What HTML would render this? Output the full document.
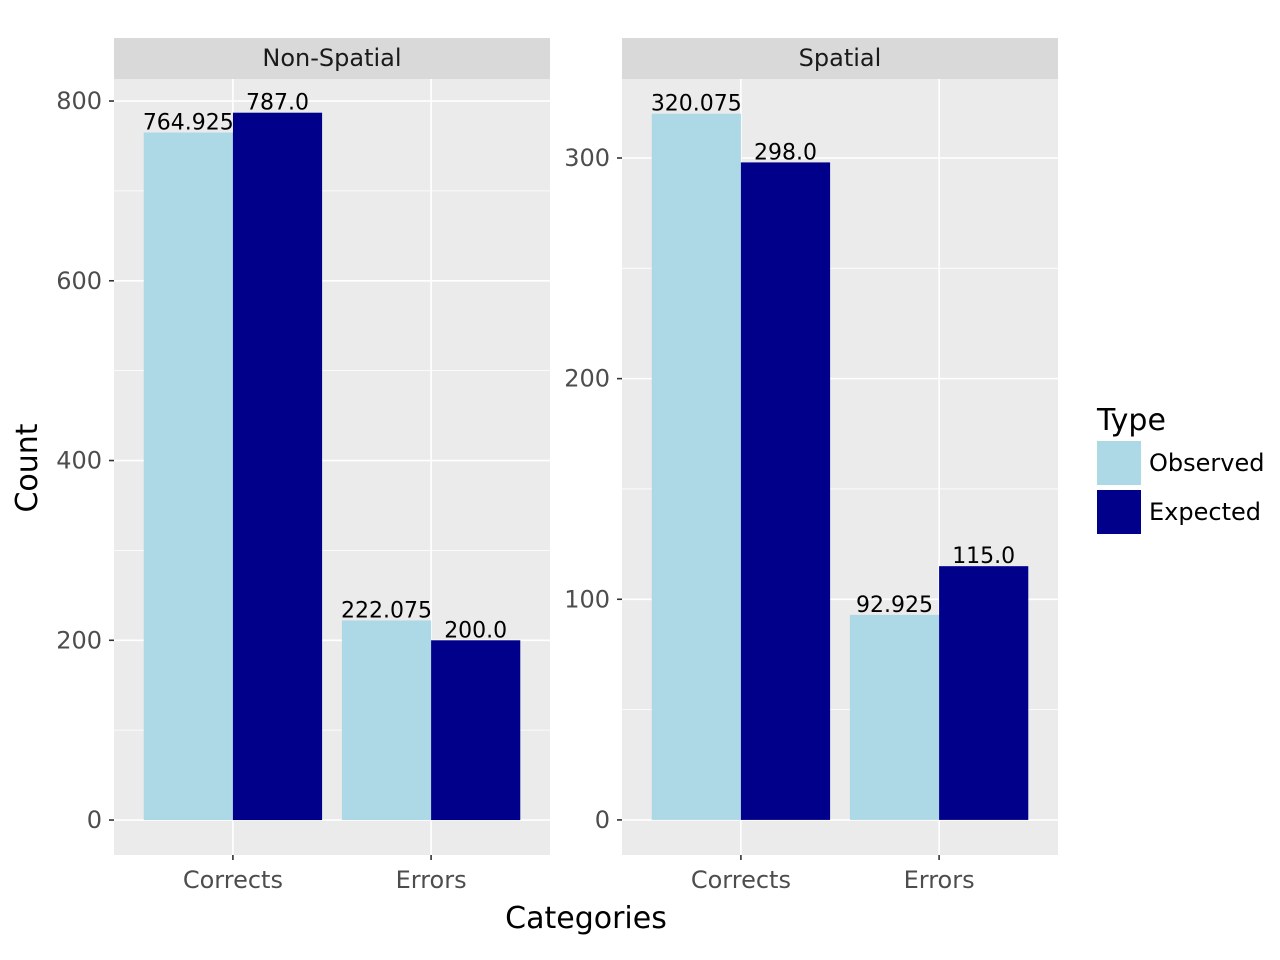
<!DOCTYPE html>
<html><head><meta charset="utf-8"><style>
body{margin:0;background:#fff}
svg{display:block;font-family:"DejaVu Sans","Liberation Sans",sans-serif}
</style></head><body>
<svg id="chart" width="1280" height="960" viewBox="0 0 1280 960" xmlns="http://www.w3.org/2000/svg"></svg>
<script>
const categories = ["Corrects", "Errors"];
const seriesNames = ["Observed", "Expected"];
const panelNames = ["Non-Spatial", "Spatial"];
const nonSpatialObserved = [764.925, 222.075];
const nonSpatialExpected = [787.0, 200.0];
const spatialObserved = [320.075, 92.925];
const spatialExpected = [298.0, 115.0];
const nonSpatialTicks = [0, 200, 400, 600, 800];
const spatialTicks = [0, 100, 200, 300];
const nonSpatialMinor = [100, 300, 500, 700];
const spatialMinor = [50, 150, 250];
const colors = ["#add8e6", "#00008b"];

const svgEl = document.getElementById('chart');
const NS = 'http://www.w3.org/2000/svg';
function mk(tag, attrs, parent, text) {
  const e = document.createElementNS(NS, tag);
  for (const k in attrs) e.setAttribute(k, attrs[k]);
  if (text !== undefined) e.textContent = text;
  (parent || svgEl).appendChild(e);
  return e;
}
const plotTop = 79, plotBottom = 855;
const panels = [
  {x0:114, name:panelNames[0], obs:nonSpatialObserved, exp:nonSpatialExpected, ticks:nonSpatialTicks, minor:nonSpatialMinor, ymin:-38.9, ymax:824.5},
  {x0:622, name:panelNames[1], obs:spatialObserved, exp:spatialExpected, ticks:spatialTicks, minor:spatialMinor, ymin:-15.9, ymax:335.8}
];
const W = 436;
panels.forEach((p, pi) => {
  const g = mk('g', {}, svgEl);
  
  
  const y = v => plotBottom - (v - p.ymin) / (p.ymax - p.ymin) * (plotBottom - plotTop);
  const x = c => p.x0 + (c + 1 - 0.4) / 2.2 * W;
  const bg = mk('rect', {x:p.x0, y:plotTop, width:W, height:plotBottom-plotTop, fill:'#ebebeb'}, g);
  
  
  const strip = mk('rect', {x:p.x0, y:38, width:W, height:41, fill:'#d9d9d9'}, g);
  
  
  const st = mk('text', {x:p.x0+W/2, y:66, 'text-anchor':'middle', 'font-size':24, fill:'#1a1a1a'}, g, p.name);
  
  
  p.minor.forEach(v => {
    const l = mk('line', {x1:p.x0, x2:p.x0+W, y1:y(v), y2:y(v), stroke:'#fff', 'stroke-width':0.8}, g);
    
    
  });
  p.ticks.forEach(v => {
    const l = mk('line', {x1:p.x0, x2:p.x0+W, y1:y(v), y2:y(v), stroke:'#fff', 'stroke-width':1.6}, g);
    
    
    const tk = mk('line', {x1:p.x0-5, x2:p.x0, y1:y(v), y2:y(v), stroke:'#333', 'stroke-width':1.6}, g);
    
    
    const t = mk('text', {x:p.x0-12, y:y(v)+8, 'text-anchor':'end', 'font-size':24, fill:'#4d4d4d'}, g, String(v));
    
    
  });
  categories.forEach((c, ci) => {
    const cx = x(ci);
    const l = mk('line', {x1:cx, x2:cx, y1:plotTop, y2:plotBottom, stroke:'#fff', 'stroke-width':1.6}, g);
    
    
    const tk = mk('line', {x1:cx, x2:cx, y1:plotBottom, y2:plotBottom+5, stroke:'#333', 'stroke-width':1.6}, g);
    
    
    const t = mk('text', {x:cx, y:888, 'text-anchor':'middle', 'font-size':24, fill:'#4d4d4d'}, g, c);
    
    
    const bw = 0.45 / 2.2 * W;
    [p.obs[ci], p.exp[ci]].forEach((v, si) => {
      const bx = si === 0 ? cx - bw : cx;
      const r = mk('rect', {x:bx, y:y(v), width:bw, height:y(0)-y(v), fill:colors[si]}, g);
      
      
      const lbl = Number.isInteger(v) ? v.toFixed(1) : String(v);
      const t = mk('text', {x:bx+bw/2, y:y(v)-3, 'text-anchor':'middle', 'font-size':22, fill:'#000'}, g, lbl);
      
      
    });
  });
});
const yt = mk('text', {x:0, y:0, transform:'translate(37,468) rotate(-90)', 'text-anchor':'middle', 'font-size':30, fill:'#000'}, svgEl, 'Count');


const xt = mk('text', {x:586, y:928, 'text-anchor':'middle', 'font-size':30, fill:'#000'}, svgEl, 'Categories');


const lg = mk('g', {}, svgEl);


const lt = mk('text', {x:1097, y:430, 'font-size':30, fill:'#000'}, lg, 'Type');


seriesNames.forEach((s, i) => {
  const ky = 441 + i * 49;
  const k = mk('rect', {x:1097, y:ky, width:44, height:44, fill:colors[i]}, lg);
  
  
  const t = mk('text', {x:1149, y:ky+30, 'font-size':24, fill:'#000'}, lg, s);
  
  
});
</script>
</body></html>
